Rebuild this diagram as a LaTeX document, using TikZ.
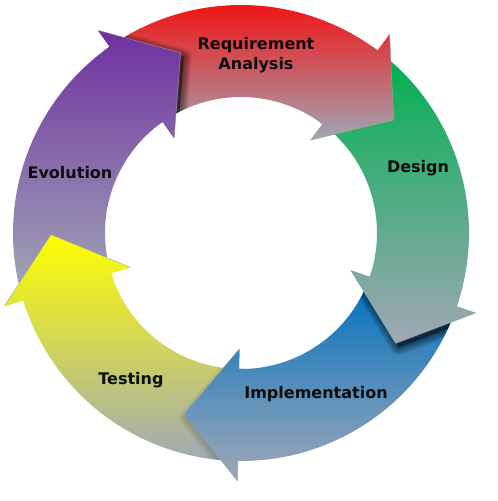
\documentclass[tikz,border=0pt]{standalone}
\usepackage{fontspec}
\setmainfont{DejaVu Sans}
\definecolor{cRed}{RGB}{250,5,5}
\definecolor{cGreen}{RGB}{0,176,80}
\definecolor{cBlue}{RGB}{0,112,192}
\definecolor{cYellow}{RGB}{255,255,0}
\definecolor{cPurple}{RGB}{112,48,160}
\definecolor{cBot}{RGB}{160,168,182}
\newcommand\setang[1]{%
  \pgfmathsetmacro\bA{53.2-72*#1}%
  \pgfmathsetmacro\tA{36.5-72*#1}%
  \pgfmathsetmacro\sA{123.7-72*#1}%
  \pgfmathsetmacro\wA{\tA-6}%
  \pgfmathsetmacro\vA{\bA+2}%
}
\tikzset{
  ringarrow/.style={insert path={(\sA:228pt) arc[start angle=\sA,end angle=\bA,radius=228pt] -- (\bA:248pt) -- (\tA:190pt) -- (\bA:116pt) -- (\bA:136pt) arc[start angle=\bA,end angle=\sA,radius=136pt] -- cycle}},
  headtri/.style={insert path={(\bA:248pt) -- (\tA:190pt) -- (\bA:116pt) -- cycle}},
  headwedge/.style={insert path={(\wA:100pt) -- (\wA:262pt) arc[start angle=\wA,end angle=\vA,radius=262pt] -- (\vA:100pt) -- cycle}},
  lbl/.style={font=\bfseries\fontsize{16}{19}\selectfont, text=black!95, inner sep=0pt, anchor=base},
}
\begin{document}
\begin{tikzpicture}[x=1pt,y=1pt]
\useasboundingbox (-241,-268) rectangle (257,233);
% bodies
\foreach \k/\c in {0/cRed,1/cGreen,2/cBlue,3/cYellow,4/cPurple}{
  \setang{\k}
  \shade[top color=\c, bottom color=cBot, ringarrow];
}
% shadows and heads on top
\foreach \k/\c/\n/\s in {0/cRed/1/0,1/cGreen/2/1,2/cBlue/3/0.35,3/cYellow/4/0,4/cPurple/0/1}{
  \begin{scope}
    \setang{\n}
    \clip[ringarrow];
    \setang{\k}
    \begin{scope}[shift={(3,-4)}]
      \fill[black,opacity=0.45*\s,headtri];
      \foreach \w in {2,4,6,8,10,12,14,16}{
        \draw[black,opacity=0.07*\s,line width=\w pt,line join=round,headtri];
      }
    \end{scope}
  \end{scope}
  \begin{scope}
    \setang{\k}
    \clip[headwedge];
    \shade[top color=\c, bottom color=cBot, ringarrow];
  \end{scope}
  \setang{\k}
  \draw[gray!70, line width=0.5pt, opacity=0.8] (\bA:248pt) -- (\tA:190pt) -- (\bA:116pt);
}
\node[lbl] (req) at (15,183) {Requirement};
\node[lbl] (ana) at (15,164) {Analysis};
\node[lbl] (des) at (177,61) {Design};
\node[lbl] (imp) at (75,-165) {Implementation};
\node[lbl] (tes) at (-110,-151) {Testing};
\node[lbl] (evo) at (-171,55) {Evolution};
\end{tikzpicture}
\end{document}
